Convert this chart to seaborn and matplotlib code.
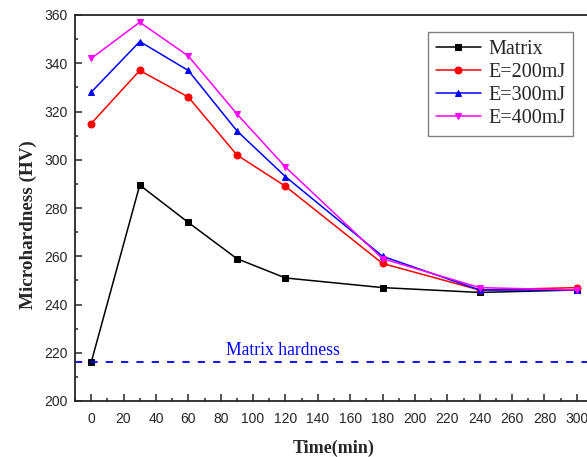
import matplotlib
matplotlib.use("Agg")
import matplotlib.pyplot as plt
import seaborn as sns
import pandas as pd
from matplotlib.ticker import MultipleLocator

sns.set_style("ticks")
plt.rcParams['font.family'] = ['Liberation Sans', 'DejaVu Sans']

time = [0, 30, 60, 90, 120, 180, 240, 300]
matrix = [216, 289.5, 274, 259, 251, 247, 245, 246]
e200 = [315, 337, 326, 302, 289, 257, 246, 247]
e300 = [328, 349, 337, 312, 293, 260, 246, 246]
e400 = [342, 357, 343, 319, 297, 259, 247, 246]
labels = ["Matrix", "E=200mJ", "E=300mJ", "E=400mJ"]
colors = ["black", "red", "blue", "magenta"]
markers = ["s", "o", "^", "v"]
matrix_hardness = 216

fig = plt.figure(figsize=(5.87, 4.57), dpi=100)
ax = fig.add_axes([75/587, 1-401/457, 518/587, 386/457])

for vals, lab, c, m in zip([matrix, e200, e300, e400], labels, colors, markers):
    df = pd.DataFrame({"Time": time, "HV": vals})
    sns.lineplot(data=df, x="Time", y="HV", ax=ax, color=c, marker=m,
                 markersize=5, markeredgecolor=c, linewidth=1.1, label=lab)

ax.axhline(matrix_hardness, color="blue", linestyle=(0, (4, 4.5)), linewidth=1.3)
ax.text(118.5, 221, "Matrix hardness", color="blue", fontsize=12.7,
        family=['Liberation Serif'], ha="center", va="center")

ax.set_xlim(-10, 310)
ax.set_ylim(200, 360)
ax.xaxis.set_major_locator(MultipleLocator(20))
ax.xaxis.set_minor_locator(MultipleLocator(10))
ax.yaxis.set_major_locator(MultipleLocator(20))
ax.yaxis.set_minor_locator(MultipleLocator(10))
ax.tick_params(which="both", direction="in", width=1.1, labelsize=10)
ax.tick_params(axis="x", pad=8)
ax.tick_params(axis="y", pad=5)
ax.tick_params(which="major", length=5)
ax.tick_params(which="minor", length=2.5)
for s in ax.spines.values():
    s.set_linewidth(1.3)

ax.set_xlabel("Time(min)", fontsize=13, fontweight="bold", family=['Liberation Serif'])
ax.set_ylabel("Microhardness (HV)", fontsize=13.8, fontweight="bold", family=['Liberation Serif'])
ax.xaxis.set_label_coords(0.5, -(448-401)/386)
ax.yaxis.set_label_coords(-(75-28)/518, (401-225)/386)
ax.xaxis.label.set_va("center")
ax.yaxis.label.set_va("center")

leg = ax.legend(loc="upper left", bbox_to_anchor=((428-75)/518, 1-(32-15)/386),
                prop={'family': 'Liberation Serif', 'size': 14.5},
                frameon=True, fancybox=False, edgecolor="gray", framealpha=1,
                handlelength=2.25, handletextpad=0.35, borderpad=0.38,
                labelspacing=0.2, borderaxespad=0)
leg.get_frame().set_linewidth(1.0)

fig.savefig("out.png", dpi=100)
